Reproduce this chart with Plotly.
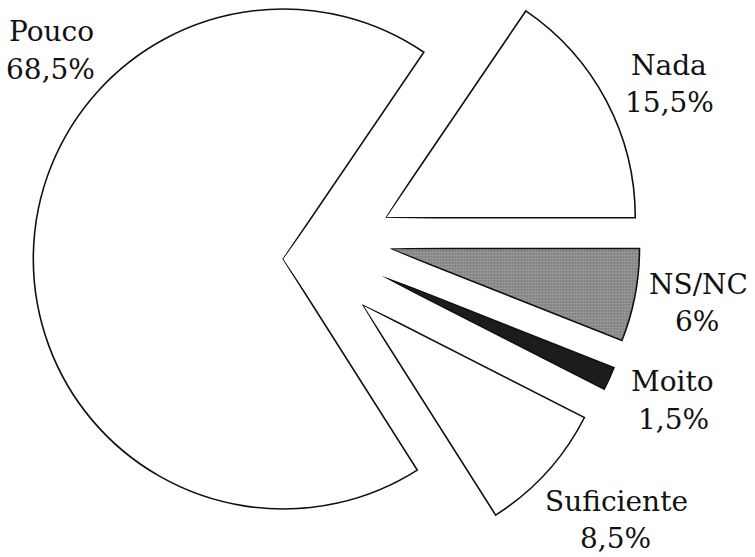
import math
import plotly.graph_objects as go

# Survey answers and their shares (%)
categories = ["Nada", "NS/NC", "Moito", "Suficiente", "Pouco"]
shares = [15.5, 6, 1.5, 8.5, 68.5]
slice_fills = ["#ffffff", "#7e7e7e", "#1c1c1c", "#ffffff", "#ffffff"]

W, H = 755, 557
RADIUS = 250        # wedge radius in px
START_ANGLE = 55.8  # first wedge starts here (deg, counter-clockwise from east), wedges run clockwise
R_MAX = 1.02        # radial range headroom so the outline is not clipped
PAD = 1.5           # angular headroom (deg) around every wedge's sector

# Where each exploded wedge has its tip (px from the top-left corner)
wedge_tips = {
    "Nada": (385.3, 217.7),
    "NS/NC": (389.5, 248.5),
    "Moito": (381.5, 275.7),
    "Suficiente": (361.7, 304.0),
    "Pouco": (283.3, 259.0),
}

# Label anchor points (px): name line and percentage line
label_pos = {
    "Nada": ((669, 66), (669, 103)),
    "NS/NC": ((698, 284), (697, 321)),
    "Moito": ((672, 382), (673, 419)),
    "Suficiente": ((616, 501), (615, 538)),
    "Pouco": ((51, 32), (50, 69)),
}

FONT = "DejaVu Serif"
FONT_SIZE = 28


def pct_text(v):
    return f"{v:g}".replace(".", ",") + "%"


def sector_bbox(s0, s1):
    """Bounding box (unit circle, origin included) of a polar sector, as plotly computes it."""
    arc = s1 - s0
    a0 = s0 % 360
    a1 = a0 + arc
    ax0, ay0 = math.cos(math.radians(a0)), math.sin(math.radians(a0))
    ax1, ay1 = math.cos(math.radians(a1)), math.sin(math.radians(a1))
    if (a0 <= 90 and a1 >= 90) or (a0 > 90 and a1 >= 450):
        y1 = 1
    elif ay0 <= 0 and ay1 <= 0:
        y1 = 0
    else:
        y1 = max(ay0, ay1)
    if (a0 <= 180 and a1 >= 180) or (a0 > 180 and a1 >= 540):
        x0 = -1
    elif ax0 >= 0 and ax1 >= 0:
        x0 = 0
    else:
        x0 = min(ax0, ax1)
    if (a0 <= 270 and a1 >= 270) or (a0 > 270 and a1 >= 630):
        y0 = -1
    elif ay0 >= 0 and ay1 >= 0:
        y0 = 0
    else:
        y0 = min(ay0, ay1)
    if a1 >= 360:
        x1 = 1
    elif ax0 <= 0 and ax1 <= 0:
        x1 = 0
    else:
        x1 = max(ax0, ax1)
    return x0, y0, x1, y1


fig = go.Figure()
layout_polars = {}

cum = 0.0
for k, (name, share) in enumerate(zip(categories, shares)):
    a_hi = START_ANGLE - cum * 3.6
    a_lo = START_ANGLE - (cum + share) * 3.6
    cum += share
    span = share * 3.6
    centre = (a_hi + a_lo) / 2

    s0 = (a_lo - PAD) % 360
    s1 = s0 + span + 2 * PAD
    bx0, by0, bx1, by1 = sector_bbox(s0, s1)

    tx, ty = wedge_tips[name]
    rpx = RADIUS * R_MAX
    dom_x = [(tx + rpx * bx0) / W, (tx + rpx * bx1) / W]
    dom_y = [1 - (ty - rpx * by0) / H, 1 - (ty - rpx * by1) / H]
    dom_x = [min(max(v, 0), 1) for v in dom_x]
    dom_y = [min(max(v, 0), 1) for v in dom_y]

    pid = "polar" if k == 0 else f"polar{k + 1}"
    pattern = dict(shape=".", fgcolor="#d8d8d8", size=3, solidity=0.35,
                   fillmode="overlay") if name == "NS/NC" else dict(shape="")
    fig.add_trace(go.Barpolar(
        r=[1], theta=[centre], width=[span],
        name=name,
        marker=dict(color=slice_fills[k],
                    line=dict(color="#111111", width=1.6),
                    pattern=pattern),
        hovertemplate=f"{name}: {pct_text(share)}<extra></extra>",
        subplot=pid,
        showlegend=False,
    ))
    layout_polars[pid] = dict(
        domain=dict(x=dom_x, y=dom_y),
        sector=[s0, s1],
        bgcolor="rgba(0,0,0,0)",
        bargap=0,
        radialaxis=dict(visible=False, range=[0, R_MAX]),
        angularaxis=dict(visible=False),
    )

annotations = []
for name, val in zip(categories, shares):
    (nx, ny), (px_, py_) = label_pos[name]
    for text, x, y in ((name, nx, ny), (pct_text(val), px_, py_)):
        annotations.append(dict(
            text=text, x=x / W, y=1 - y / H, xref="paper", yref="paper",
            xanchor="center", yanchor="middle", showarrow=False,
            font=dict(family=FONT, size=FONT_SIZE, color="#111111"),
        ))

fig.update_layout(
    width=W, height=H,
    margin=dict(l=0, r=0, t=0, b=0),
    paper_bgcolor="white",
    plot_bgcolor="white",
    annotations=annotations,
    showlegend=False,
    **layout_polars,
)

fig.write_html("out.html")
